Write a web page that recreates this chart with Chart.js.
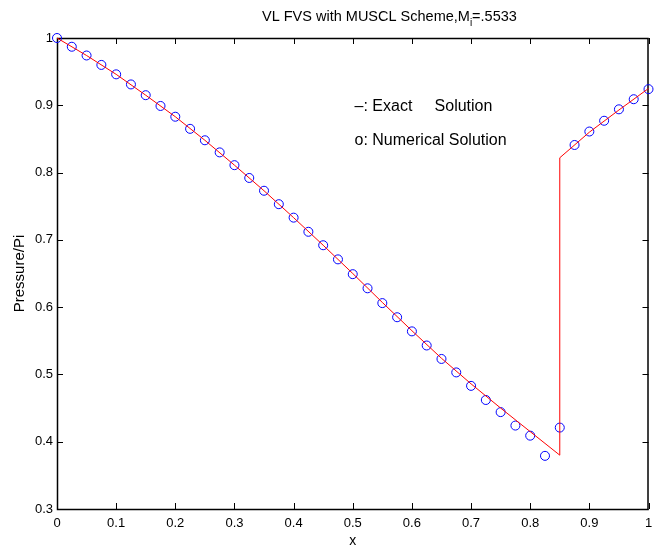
<!DOCTYPE html>
<html>
<head>
<meta charset="utf-8">
<script src="https://cdn.jsdelivr.net/npm/chart.js@4"></script>
<style>
  body { margin: 0; background: #fff; }
  #wrap { width: 654px; height: 548px; position: relative; }
</style>
</head>
<body>
<div id="wrap"><canvas id="c"></canvas></div>
<script>
// data
const numX = [0, 0.025, 0.05, 0.075, 0.1, 0.125, 0.15, 0.175, 0.2, 0.225, 0.25, 0.275, 0.3, 0.325, 0.35, 0.375,
  0.4, 0.425, 0.45, 0.475, 0.5, 0.525, 0.55, 0.575, 0.6, 0.625, 0.65, 0.675, 0.7, 0.725, 0.75, 0.775, 0.8, 0.825,
  0.85, 0.875, 0.9, 0.925, 0.95, 0.975, 1.0];
const numP = [1.0, 0.987, 0.974, 0.960, 0.946, 0.931, 0.915, 0.899, 0.883, 0.865, 0.848, 0.830, 0.811, 0.792, 0.773, 0.753,
  0.733, 0.712, 0.692, 0.671, 0.649, 0.628, 0.606, 0.585, 0.564, 0.543, 0.523, 0.503, 0.483, 0.462, 0.444, 0.424, 0.409, 0.379,
  0.421, 0.841, 0.861, 0.877, 0.894, 0.909, 0.924];

const exactX = [0, 0.05, 0.1, 0.15, 0.2, 0.25, 0.3, 0.35, 0.4, 0.45, 0.5, 0.55, 0.6, 0.65, 0.7, 0.75, 0.8, 0.85, 0.85, 0.9, 0.95, 1.0];
const exactP = [1.0, 0.974, 0.946, 0.915, 0.883, 0.848, 0.811, 0.773, 0.733, 0.692, 0.650, 0.607, 0.565, 0.524, 0.486, 0.450, 0.415, 0.380, 0.822, 0.860, 0.893, 0.925];

const xTicks = [0, 0.1, 0.2, 0.3, 0.4, 0.5, 0.6, 0.7, 0.8, 0.9, 1];
const xTickLabels = ['0', '0.1', '0.2', '0.3', '0.4', '0.5', '0.6', '0.7', '0.8', '0.9', '1'];
const yTicks = [0.3, 0.4, 0.5, 0.6, 0.7, 0.8, 0.9, 1];
const yTickLabels = ['0.3', '0.4', '0.5', '0.6', '0.7', '0.8', '0.9', '1'];

const titleMain = 'VL FVS with MUSCL Scheme,M';
const titleSub = 'i';
const titleEnd = '=.5533';
const legendLines = ['\u2013: Exact     Solution', 'o: Numerical Solution'];

const FONT = '"Liberation Sans", Arial, Helvetica, sans-serif';

// matlab-style box with inward ticks, labels and texts
const axesBox = {
  id: 'axesBox',
  beforeDatasetsDraw(chart) {
    const { ctx, chartArea: a, scales: { x, y } } = chart;
    ctx.save();
    ctx.strokeStyle = '#000';
    ctx.lineWidth = 1.5;
    ctx.strokeRect(a.left + 0.5, a.top + 0.5, a.right - a.left - 1, a.bottom - a.top);
    ctx.lineWidth = 1;
    const tl = 6;
    ctx.beginPath();
    xTicks.forEach(v => {
      const px = Math.round(x.getPixelForValue(v)) + 0.5;
      ctx.moveTo(px, a.bottom); ctx.lineTo(px, a.bottom - tl);
      ctx.moveTo(px, a.top); ctx.lineTo(px, a.top + tl);
    });
    yTicks.forEach(v => {
      const py = Math.round(y.getPixelForValue(v)) + 0.5;
      ctx.moveTo(a.left, py); ctx.lineTo(a.left + tl, py);
      ctx.moveTo(a.right, py); ctx.lineTo(a.right - tl, py);
    });
    ctx.stroke();

    ctx.fillStyle = '#000';
    ctx.font = '13px ' + FONT;
    ctx.textAlign = 'center';
    ctx.textBaseline = 'middle';
    xTicks.forEach((v, i) => ctx.fillText(xTickLabels[i], x.getPixelForValue(v), a.bottom + 14));
    ctx.textAlign = 'right';
    yTicks.forEach((v, i) => ctx.fillText(yTickLabels[i], a.left - 4, y.getPixelForValue(v)));

    // axis titles
    ctx.font = '14px ' + FONT;
    ctx.textAlign = 'center';
    ctx.fillText('x', (a.left + a.right) / 2, a.bottom + 32);
    ctx.save();
    ctx.translate(20, (a.top + a.bottom) / 2);
    ctx.rotate(-Math.PI / 2);
    ctx.font = '15px ' + FONT;
    ctx.fillText('Pressure/Pi', 0, 0);
    ctx.restore();

    // title with subscript
    ctx.textAlign = 'left';
    ctx.textBaseline = 'alphabetic';
    ctx.font = '14.5px ' + FONT;
    const w1 = ctx.measureText(titleMain).width;
    ctx.font = '10px ' + FONT;
    const w2 = ctx.measureText(titleSub).width;
    const left = 262;
    ctx.font = '14.5px ' + FONT;
    ctx.fillText(titleMain, left, 21);
    ctx.font = '10px ' + FONT;
    ctx.fillText(titleSub, left + w1, 26);
    ctx.font = '14.5px ' + FONT;
    ctx.fillText(titleEnd, left + w1 + w2, 21);

    // text legend
    ctx.font = '16px ' + FONT;
    ctx.fillText(legendLines[0], x.getPixelForValue(0.503), y.getPixelForValue(0.892));
    ctx.fillText(legendLines[1], x.getPixelForValue(0.503), y.getPixelForValue(0.841));
    ctx.restore();
  }
};

new Chart(document.getElementById('c'), {
  type: 'scatter',
  data: {
    datasets: [
      {
        label: 'Exact Solution',
        data: exactX.map((v, i) => ({ x: v, y: exactP[i] })),
        showLine: true,
        borderColor: '#ff0000',
        borderWidth: 1,
        pointRadius: 0,
        fill: false,
        tension: 0,
        clip: false
      },
      {
        label: 'Numerical Solution',
        data: numX.map((v, i) => ({ x: v, y: numP[i] })),
        showLine: false,
        pointStyle: 'circle',
        pointRadius: 4.5,
        pointBorderWidth: 1,
        pointBorderColor: '#0000ff',
        pointBackgroundColor: 'rgba(0,0,0,0)',
        clip: false
      }
    ]
  },
  options: {
    responsive: true,
    maintainAspectRatio: false,
    animation: false,
    layout: { padding: { left: 57, right: 1, top: 38, bottom: 39 } },
    plugins: { legend: { display: false }, tooltip: { enabled: false }, title: { display: false } },
    scales: {
      x: { type: 'linear', min: 0, max: 1, display: false },
      y: { type: 'linear', min: 0.3, max: 1, display: false }
    }
  },
  plugins: [axesBox]
});
</script>
</body>
</html>
